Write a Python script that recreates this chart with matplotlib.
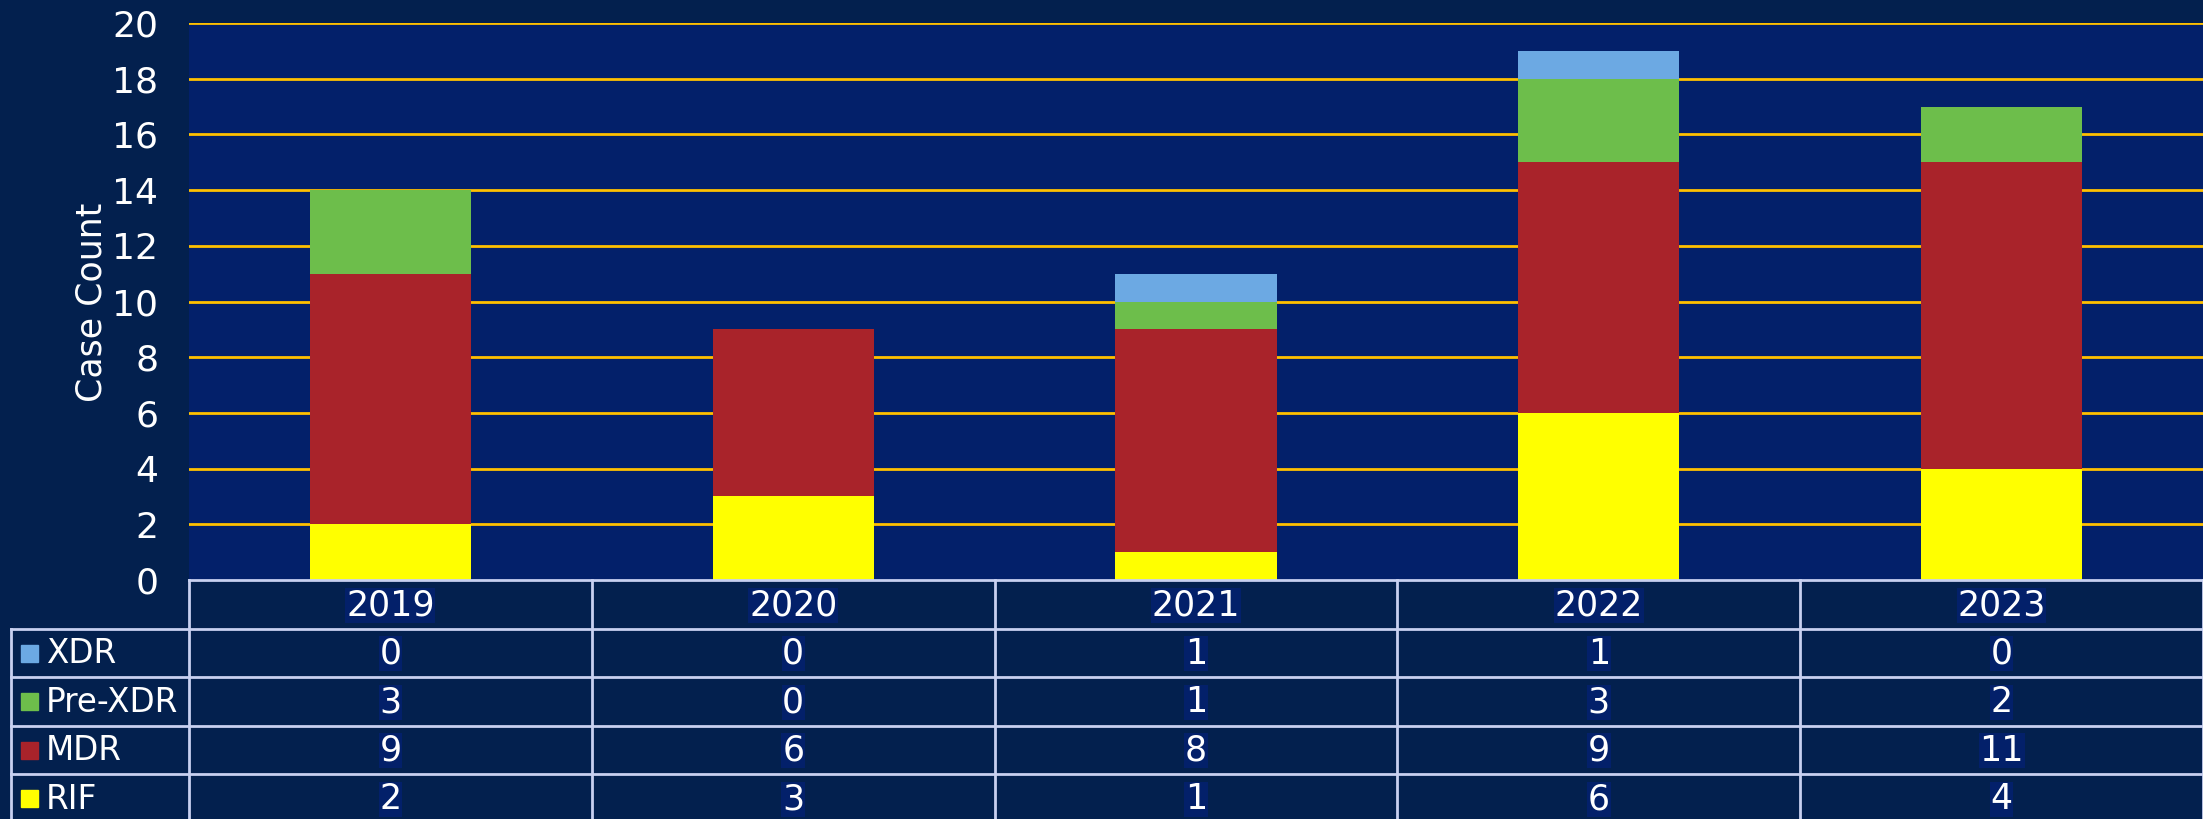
import numpy as np
import matplotlib.pyplot as plt
from matplotlib.patches import Rectangle

# data
years = ['2019', '2020', '2021', '2022', '2023']
rif = [2, 3, 1, 6, 4]
mdr = [9, 6, 8, 9, 11]
pre_xdr = [3, 0, 1, 3, 2]
xdr = [0, 0, 1, 1, 0]

series = [('RIF', rif, '#FFFF00'),
          ('MDR', mdr, '#A9232A'),
          ('Pre-XDR', pre_xdr, '#6DBE4B'),
          ('XDR', xdr, '#6CA9E3')]

fig_bg = '#03204E'
ax_bg = '#03206A'
grid_col = '#FFC000'
line_col = '#C8D0F0'

plt.rcParams['font.family'] = ['DejaVu Sans']

W, H = 2203, 819
fig = plt.figure(figsize=(W / 100, H / 100), dpi=100, facecolor=fig_bg)

# bar axes
left, right, top, bottom = 189, 2203, 23, 580
ax = fig.add_axes([left / W, 1 - bottom / H, (right - left) / W, (bottom - top) / H])
ax.set_facecolor(ax_bg)
x = np.arange(len(years))
base = np.zeros(len(years))
for name, vals, col in series:
    ax.bar(x, vals, width=0.4, bottom=base, color=col, edgecolor='none', zorder=3)
    base += np.array(vals)

ax.set_xlim(-0.5, len(years) - 0.5)
ax.set_ylim(0, 20)
ax.set_yticks(np.arange(0, 21, 2))
for yv in np.arange(2, 21, 2):
    ax.axhline(yv, color=grid_col, lw=2, zorder=1)
ax.set_xticks([])
ax.tick_params(axis='y', length=0, pad=22, labelsize=26, labelcolor='white')
for s in ax.spines.values():
    s.set_visible(False)

fig.text(91 / W, 1 - 302 / H, 'Case Count', rotation=90, ha='center', va='center',
         color='white', fontsize=25)

# data table
tleft = 11
unit = (right - left) / len(years)
tx0 = -0.5 - (left - tleft) / unit
row_h = 48.5
tax = fig.add_axes([tleft / W, 0, (right - tleft) / W, 1 - bottom / H])
tax.set_facecolor(fig_bg)
tax.set_xlim(tx0, len(years) - 0.5)
nrows_vis = (H - bottom) / row_h
tax.set_ylim(nrows_vis, 0)
tax.axis('off')

lw = 2
tax.plot([-0.5, len(years) - 0.5], [0, 0], color=line_col, lw=lw, clip_on=False)
for i in range(len(years) + 1):
    tax.plot([i - 0.5, i - 0.5], [0, nrows_vis], color=line_col, lw=lw, clip_on=False)
tax.plot([tx0, tx0], [1, nrows_vis], color=line_col, lw=lw, clip_on=False)
for r in range(1, 5):
    tax.plot([tx0, len(years) - 0.5], [r, r], color=line_col, lw=lw, clip_on=False)

box = dict(facecolor=ax_bg, edgecolor='none', pad=0.5)
for i, yr in enumerate(years):
    tax.text(i, 0.52, yr, ha='center', va='center', color='white', fontsize=25, bbox=box)

rows = [('XDR', xdr, '#6CA9E3'), ('Pre-XDR', pre_xdr, '#6DBE4B'),
        ('MDR', mdr, '#A9232A'), ('RIF', rif, '#FFFF00')]
sq_w = 17 / unit
for r, (name, vals, col) in enumerate(rows):
    yc = r + 1.52
    tax.add_patch(Rectangle((tx0 + 10 / unit, yc - 0.18), sq_w, 0.35, color=col))
    tax.text(tx0 + 35 / unit, yc, name, ha='left', va='center', color='white', fontsize=23.5)
    for i, v in enumerate(vals):
        tax.text(i, yc, str(v), ha='center', va='center', color='white', fontsize=25, bbox=box)

fig.savefig('out.png', dpi=100, facecolor=fig_bg)
